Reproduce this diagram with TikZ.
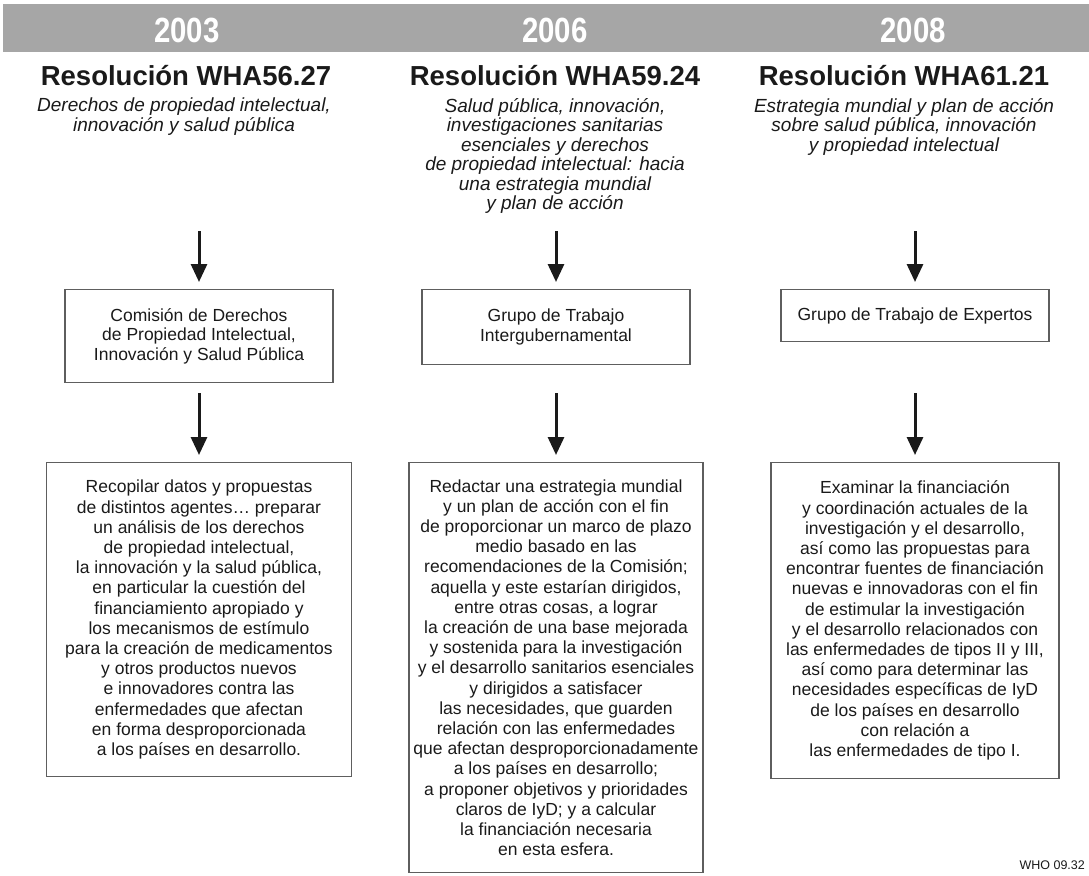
\documentclass[tikz,border=0pt]{standalone}
\usepackage{fontspec}
\setmainfont{Liberation Sans}
\newfontfamily\yearfont[FakeStretch=0.84]{Liberation Sans}
\usetikzlibrary{arrows.meta,positioning}

\definecolor{barGray}{HTML}{A6A6A6}
\definecolor{boxGray}{HTML}{5E5E5E}
\definecolor{inkBlack}{HTML}{1A1A1A}

\newcommand\tightlead{\lineskiplimit=-50pt\relax}

\tikzset{
  yearlabel/.style={text=white, anchor=base, inner sep=0pt,
    font={\yearfont\bfseries\fontsize{35}{38}\selectfont}},
  reslabel/.style={text=inkBlack, anchor=base, inner sep=0pt,
    font={\bfseries\fontsize{27.5}{30}\selectfont}},
  topiclabel/.style={text=inkBlack, align=center, anchor=north, inner sep=0pt,
    font={\itshape\fontsize{19}{19.5}\selectfont\tightlead}},
  midbox/.style={draw=boxGray, line width=1.3pt, text=inkBlack, anchor=north,
    align=center, minimum width=268pt,
    font={\fontsize{17.5}{19.5}\selectfont\tightlead}},
  taskbox/.style={draw=boxGray, line width=1.3pt, text=inkBlack, anchor=north,
    align=center, font={\fontsize{17.5}{20.2}\selectfont\tightlead}},
  flowarrow/.style={inkBlack, line width=3pt, shorten >=7pt,
    -{Triangle[width=16pt,length=18pt]}}
}

\begin{document}
\begin{tikzpicture}[x=1pt, y=-1pt]
    \useasboundingbox (0,0) rectangle (1089,875);

    % year bar
    \fill[barGray] (3,4) rectangle (1089,52);
    \node[yearlabel] (yr1) at (187,43) {2003};
    \node[yearlabel] (yr2) at (555,43) {2006};
    \node[yearlabel] (yr3) at (913,43) {2008};

    % resolutions
    \node[reslabel] (res1) at (186,85) {Resolución WHA56.27};
    \node[reslabel] (res2) at (555,85) {Resolución WHA59.24};
    \node[reslabel] (res3) at (904,85) {Resolución WHA61.21};

    \node[topiclabel] (topic1) at (184,98) {Derechos de propiedad intelectual,\\
        innovación y salud pública};
    \node[topiclabel] (topic2) at (555,98) {Salud pública, innovación,\\
        investigaciones sanitarias\\esenciales y derechos\\
        de propiedad intelectual: hacia\\una estrategia mundial\\y plan de acción};
    \node[topiclabel] (topic3) at (904,98) {Estrategia mundial y plan de acción\\
        sobre salud pública, innovación\\y propiedad intelectual};

    % bodies
    \node[midbox, minimum height=93pt] (body1) at (199,289) {Comisión de Derechos\\
        de Propiedad Intelectual,\\Innovación y Salud Pública};
    \node[midbox, minimum height=75pt] (body2) at (556,289) {Grupo de Trabajo\\
        Intergubernamental};
    \node[midbox, minimum height=52pt] (body3) at (915,289) {Grupo de Trabajo de Expertos};

    % mandates
    \node[taskbox, minimum width=305pt, minimum height=314pt] (task1) at (199,462) {%
        Recopilar datos y propuestas\\de distintos agentes… preparar\\
        un análisis de los derechos\\de propiedad intelectual,\\
        la innovación y la salud pública,\\en particular la cuestión del\\
        financiamiento apropiado y\\los mecanismos de estímulo\\
        para la creación de medicamentos\\y otros productos nuevos\\
        e innovadores contra las\\enfermedades que afectan\\
        en forma desproporcionada\\a los países en desarrollo.};
    \node[taskbox, minimum width=294pt, minimum height=410pt] (task2) at (556,462) {%
        Redactar una estrategia mundial\\y un plan de acción con el fin\\
        de proporcionar un marco de plazo\\medio basado en las\\
        recomendaciones de la Comisión;\\aquella y este estarían dirigidos,\\
        entre otras cosas, a lograr\\la creación de una base mejorada\\
        y sostenida para la investigación\\y el desarrollo sanitarios esenciales\\
        y dirigidos a satisfacer\\las necesidades, que guarden\\
        relación con las enfermedades\\que afectan desproporcionadamente\\
        a los países en desarrollo;\\a proponer objetivos y prioridades\\
        claros de IyD; y a calcular\\la financiación necesaria\\en esta esfera.};
    \node[taskbox, minimum width=288pt, minimum height=316pt] (task3) at (915,462) {%
        Examinar la financiación\\y coordinación actuales de la\\
        investigación y el desarrollo,\\así como las propuestas para\\
        encontrar fuentes de financiación\\nuevas e innovadoras con el fin\\
        de estimular la investigación\\y el desarrollo relacionados con\\
        las enfermedades de tipos II y III,\\así como para determinar las\\
        necesidades específicas de IyD\\de los países en desarrollo\\
        con relación a\\las enfermedades de tipo I.};

    % arrows
    \coordinate (top1) at (199,231);
    \coordinate (top2) at (556,231);
    \coordinate (top3) at (915,231);
    \coordinate (low1) at (199,393);
    \coordinate (low2) at (556,393);
    \coordinate (low3) at (915,393);
    \draw[flowarrow] (top1) -- (body1.north);
    \draw[flowarrow] (top2) -- (body2.north);
    \draw[flowarrow] (top3) -- (body3.north);
    \draw[flowarrow] (low1) -- (task1.north);
    \draw[flowarrow] (low2) -- (task2.north);
    \draw[flowarrow] (low3) -- (task3.north);

    \node[anchor=west, text=inkBlack, font=\fontsize{12.5}{14}\selectfont] (code) at (1016,865) {WHO 09.32};

\end{tikzpicture}
\end{document}
